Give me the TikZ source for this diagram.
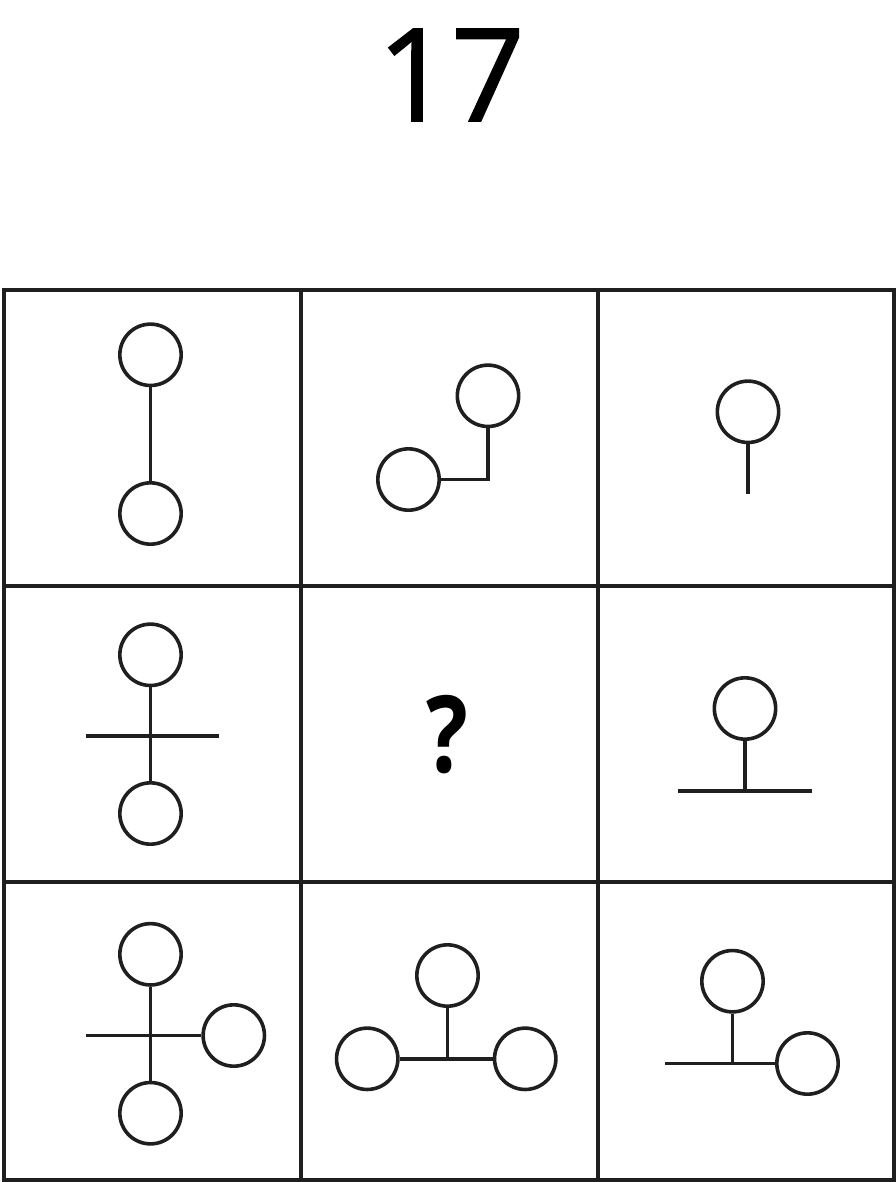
\documentclass[tikz,border=0pt]{standalone}
\usepackage{fontspec}
\setmainfont{Open Sans}
\newfontfamily\titlefont[FakeBold=1.2]{Open Sans}
\begin{document}
\begin{tikzpicture}[x=0.75pt,y=-0.75pt,
  gridline/.style={line width=3pt,color=black!88},
  ball/.style={circle,draw=black!88,line width=2.7pt,minimum size=46pt,inner sep=0pt},
  link/.style={line width=2.7pt,color=black!88}]
\useasboundingbox (0,0) rectangle (896,1182);
% title
\node (title) at (451,75) {\titlefont\fontsize{97}{97}\selectfont 17};
% grid
\draw[gridline] (3.5,289.5) rectangle (893.5,1179.5);
\draw[gridline] (300.5,289.5) -- (300.5,1179.5);
\draw[gridline] (597.5,289.5) -- (597.5,1179.5);
\draw[gridline] (3.5,585.5) -- (893.5,585.5);
\draw[gridline] (3.5,882) -- (893.5,882);
% cell 1
\node[ball] (a1) at (150.5,354.8) {};
\node[ball] (a2) at (150.5,513.5) {};
\draw[link] (a1) -- (a2);
% cell 2
\node[ball] (b1) at (488,395.8) {};
\node[ball] (b2) at (408.5,479.5) {};
\draw[link] (b2.east) -| (b1.south);
% cell 3
\node[ball] (c1) at (748,411.8) {};
\coordinate (c2) at (748,493.5);
\draw[link] (c1) -- (c2);
% cell 4
\node[ball] (d1) at (150.5,654.8) {};
\node[ball] (d2) at (150.5,813.5) {};
\coordinate (d3) at (85.7,735.7);
\coordinate (d4) at (219.3,735.7);
\draw[link] (d1) -- (d2);
\draw[link] (d3) -- (d4);
% cell 5
\node (q) at (447,735) {\fontsize{80}{80}\selectfont\bfseries\scalebox{0.82}[1]{?}};
% cell 6
\node[ball] (f1) at (745,708.5) {};
\coordinate (f2) at (745,791);
\coordinate (f3) at (678,791);
\coordinate (f4) at (812,791);
\draw[link] (f1) -- (f2);
\draw[link] (f3) -- (f4);
% cell 7
\node[ball] (g1) at (150.5,954.3) {};
\node[ball] (g2) at (150.5,1113.2) {};
\node[ball] (g3) at (233.8,1035.5) {};
\coordinate (g4) at (85.7,1035.5);
\draw[link] (g1) -- (g2);
\draw[link] (g4) -- (g3);
% cell 8
\node[ball] (h1) at (447.5,975.5) {};
\node[ball] (h2) at (367.2,1058.8) {};
\node[ball] (h3) at (525.2,1058.8) {};
\coordinate (h4) at (447.5,1058.8);
\draw[link] (h2) -- (h3);
\draw[link] (h1) -- (h4);
% cell 9
\node[ball] (i1) at (732.5,981.2) {};
\node[ball] (i2) at (807.5,1063.5) {};
\coordinate (i3) at (665,1063.5);
\coordinate (i4) at (732.5,1063.5);
\draw[link] (i3) -- (i2);
\draw[link] (i1) -- (i4);
\end{tikzpicture}
\end{document}
